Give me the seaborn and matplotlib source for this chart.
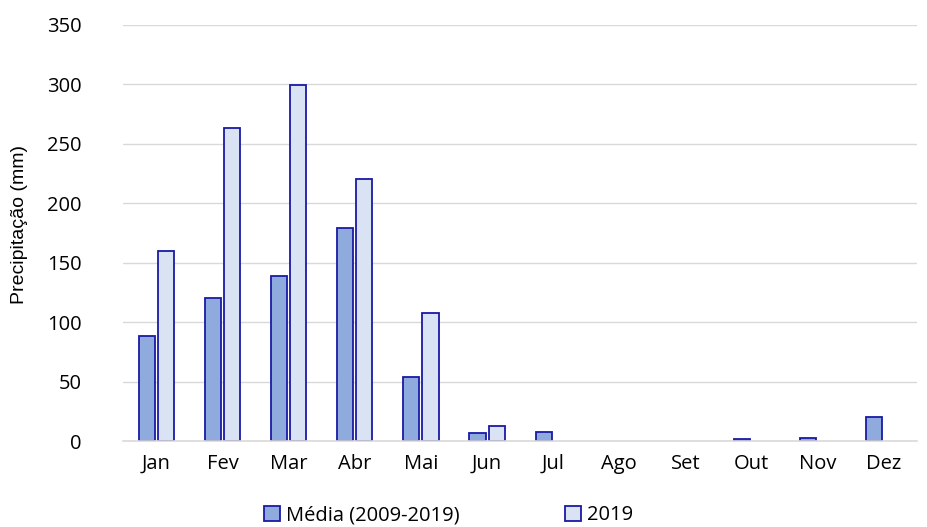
import matplotlib
matplotlib.use("Agg")
import matplotlib.pyplot as plt
import seaborn as sns
import pandas as pd

months = ["Jan", "Fev", "Mar", "Abr", "Mai", "Jun", "Jul", "Ago", "Set", "Out", "Nov", "Dez"]
media = [88, 120, 139, 179, 54, 7, 8, 0, 0, 1.5, 3, 20]
ano_2019 = [160, 263, 299, 220, 108, 13, 0, 0, 0, 0, 0, 0]
series = ["Média (2009-2019)", "2019"]

df = pd.DataFrame({
    "mes": months * 2,
    "valor": media + ano_2019,
    "serie": [series[0]] * len(months) + [series[1]] * len(months),
})

sns.set_style("white")
plt.rcParams["font.family"] = ["Open Sans", "DejaVu Sans"]

fig = plt.figure(figsize=(9.28, 5.27), dpi=100)
ax = fig.add_axes([0.133, 0.163, 0.855, 0.79])

palette = {series[0]: "#8FAADC", series[1]: "#DAE3F3"}
sns.barplot(data=df, x="mes", y="valor", hue="serie", palette=palette,
            width=0.58, gap=0.16, edgecolor="#1A1AA6", linewidth=1.3,
            saturation=1, ax=ax, legend=True)

# hide empty bars (no outline at zero)
for cont in ax.containers:
    for bar in cont:
        if bar.get_height() == 0:
            bar.set_visible(False)

ax.set_ylim(0, 350)
ax.set_yticks(range(0, 351, 50))
ax.yaxis.grid(True, color="#D9D9D9", linewidth=1)
ax.set_axisbelow(True)
for s in ["top", "right", "left"]:
    ax.spines[s].set_visible(False)
ax.spines["bottom"].set_color("#D9D9D9")
ax.spines["bottom"].set_linewidth(1.2)
ax.tick_params(axis="both", length=0, labelsize=14.5, colors="black")
ax.tick_params(axis="y", pad=30)
ax.tick_params(axis="x", pad=9)
ax.set_xlim(-0.5, 11.5)
ax.set_xlabel("")
ax.set_ylabel("Precipitação (mm)", fontsize=14, color="black",
              family=["Liberation Sans Narrow", "Liberation Sans", "DejaVu Sans"])
ax.yaxis.set_label_coords(-0.12, 0.52)

leg = ax.legend(loc="center", bbox_to_anchor=(0.41, -0.178), ncol=2, frameon=False,
                fontsize=14.5, handlelength=0.8, handleheight=0.8, handletextpad=0.3,
                columnspacing=5.2)
for t in leg.get_texts():
    t.set_color("black")

fig.savefig("out.png", dpi=100)
